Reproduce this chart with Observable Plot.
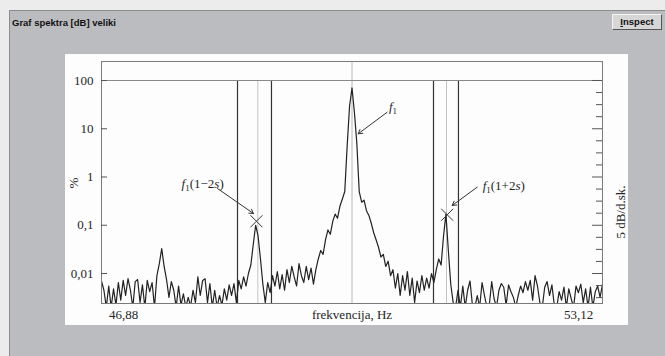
<!DOCTYPE html>
<html>
<head>
<meta charset="utf-8">
<script src="https://cdn.jsdelivr.net/npm/d3@7"></script>
<script src="https://cdn.jsdelivr.net/npm/@observablehq/plot@0.6"></script>
<style>
  html, body { margin: 0; padding: 0; }
  body { width: 665px; height: 356px; background: #ececec; position: relative; overflow: hidden; }
  #panel { position: absolute; left: 9px; top: 10px; width: 656px; height: 346px; background: #bbbcbf;
           border-top: 1px solid #8c8c8c; border-left: 1px solid #8c8c8c; }
  #title { position: absolute; left: 12px; top: 17px; font: bold 9.5px "Liberation Sans", Arial, sans-serif; color: #111; letter-spacing: 0px; }
  #inspect { position: absolute; left: 612px; top: 14px; width: 50px; height: 16px; background: #d6d6d6;
             border-top: 1px solid #f4f4f4; border-left: 1px solid #f4f4f4; border-right: 1px solid #555; border-bottom: 1px solid #555;
             font: bold 9.5px "Liberation Sans", Arial, sans-serif; color: #111; text-align: center; line-height: 14px; box-sizing: border-box; }
  #chart { position: absolute; left: 65px; top: 54px; width: 563px; height: 271px; background: #fdfdfd; }
</style>
</head>
<body>
<div id="panel"></div>
<div id="title">Graf spektra [dB] veliki</div>
<div id="inspect"><u>I</u>nspect</div>
<div id="chart"></div>
<script>
// ---- data ----
const fStart = 46.88;
const fStep = 0.03;
// spectrum amplitude, % (one value per bin)
const spectrum = [
  0.007, 0.0045, 0.002, 0.0055, 0.002, 0.0048, 0.0022, 0.0065, 0.0028, 0.0072,
  0.0035, 0.0078, 0.0045, 0.002, 0.0068, 0.0075, 0.0025, 0.0058, 0.002, 0.0072,
  0.0042, 0.0065, 0.002, 0.009, 0.016, 0.033, 0.014, 0.0075, 0.0032, 0.0068,
  0.0045, 0.002, 0.0055, 0.0022, 0.0038, 0.002, 0.0032, 0.0021, 0.0045, 0.0025,
  0.0085, 0.0035, 0.0072, 0.0078, 0.0025, 0.0062, 0.002, 0.0045, 0.002, 0.0035,
  0.0022, 0.0048, 0.0028, 0.0058, 0.0035, 0.0062, 0.0025, 0.0072, 0.0048, 0.0085,
  0.0055, 0.01, 0.015, 0.04, 0.1, 0.06, 0.02, 0.006, 0.0025, 0.0065,
  0.004, 0.009, 0.0055, 0.011, 0.0048, 0.0095, 0.0045, 0.012, 0.0065, 0.014,
  0.0085, 0.0055, 0.016, 0.009, 0.0065, 0.014, 0.0075, 0.013, 0.006, 0.012,
  0.02, 0.03, 0.025, 0.05, 0.08, 0.065, 0.12, 0.17, 0.14, 0.25,
  0.35, 0.5, 4.5, 30, 70, 22, 5, 0.5, 0.3, 0.33,
  0.2, 0.16, 0.11, 0.07, 0.05, 0.035, 0.022, 0.025, 0.014, 0.018,
  0.009, 0.012, 0.005, 0.01, 0.0035, 0.009, 0.0045, 0.011, 0.0035, 0.008,
  0.0025, 0.007, 0.004, 0.009, 0.0045, 0.008, 0.005, 0.01, 0.0065, 0.012,
  0.02, 0.015, 0.06, 0.17, 0.03, 0.006, 0.0025, 0.002, 0.0045, 0.002,
  0.0055, 0.002, 0.0045, 0.007, 0.0022, 0.002, 0.0035, 0.002, 0.0065, 0.0035,
  0.002, 0.0022, 0.0068, 0.003, 0.002, 0.0045, 0.0062, 0.0052, 0.0022, 0.0058,
  0.0042, 0.0032, 0.002, 0.0035, 0.0055, 0.004, 0.0068, 0.0045, 0.0072, 0.0028,
  0.009, 0.0055, 0.0025, 0.002, 0.0052, 0.0068, 0.0035, 0.0058, 0.0022, 0.002,
  0.0042, 0.0028, 0.0052, 0.002, 0.0048, 0.003, 0.002, 0.0055, 0.004, 0.006,
  0.0025, 0.0048, 0.002, 0.0052, 0.002, 0.0042, 0.0055, 0.0032, 0.006
];
const xDomain = [46.88, 53.12];
const yDomain = [0.00239, 247.6];
const yTicks = [100, 10, 1, 0.1, 0.01];
const yTickLabels = ["100", "10", "1", "0,1", "0,01"];
const xTickLabels = ["46,88", "53,12"];
const xLabel = "frekvencija, Hz";
const yLabel = "%";
const rightLabel = "5 dB/d.sk.";
const dbPerTick = 5;
// marker lines (Hz)
const darkLines = [48.574, 48.997, 51.015, 51.326];
const lightLines = [48.827, 51.177];
const centerLine = [50.0];
// annotations
const markerF = [48.81, 51.186];
const markerV = [0.121, 0.165];
const annText = ["f1", "f1(1-2s)", "f1(1+2s)"];
const annF = [50.51, 48.14, 51.89];
const annV = [28.9, 0.733, 0.667];
const arrF1 = [50.438, 48.325, 51.559];
const arrV1 = [22, 0.578, 0.615];
const arrF2 = [50.077, 48.773, 51.248];
const arrV2 = [7.86, 0.175, 0.257];

// ---- build ----
const W = 563, H = 271;
const mL = 36, mR = 26, mT = 7, mB = 22;
const plotW = W - mL - mR;

const spec = spectrum.map((v, i) => ({f: fStart + i * fStep, v}));
const rightTicks = d3.range(0, 19).map(k => 100 * Math.pow(10, -k * dbPerTick / 20));
const rightMajor = rightTicks.filter((d, k) => k % 4 === 0);
const rightMinor = rightTicks.filter((d, k) => k % 4 !== 0);
const ann = annText.map((t, i) => ({t, f: annF[i], v: annV[i]}));
const arrows = arrF1.map((d, i) => ({x1: d, y1: arrV1[i], x2: arrF2[i], y2: arrV2[i]}));
const markers = markerF.map((f, i) => ({f, v: markerV[i]}));

const serif = "'Liberation Serif', 'Times New Roman', serif";
const ink = "#262626";

const plot = Plot.plot({
  width: W, height: H,
  marginLeft: mL, marginRight: mR, marginTop: mT, marginBottom: mB,
  style: {background: "transparent", fontFamily: serif, fontSize: "13px", color: ink},
  x: {domain: xDomain, axis: null},
  y: {type: "log", domain: yDomain, axis: null},
  marks: [
    Plot.ruleX(centerLine, {x: d => d, y1: yDomain[0], y2: yDomain[1], stroke: "#b8b8b8", strokeWidth: 1}),
    Plot.ruleX(lightLines, {x: d => d, y1: yDomain[0], y2: 100, stroke: "#c4c4c4", strokeWidth: 1}),
    Plot.ruleX(darkLines, {x: d => d, y1: yDomain[0], y2: 100, stroke: "#333", strokeWidth: 1.2}),
    Plot.ruleY([100], {stroke: "#888", strokeWidth: 1}),
    Plot.line(spec, {x: "f", y: "v", stroke: "#222", strokeWidth: 1.2, clip: true}),
    Plot.frame({stroke: "#7a7a7a", strokeWidth: 1}),
    // left axis (inward ticks)
    Plot.tickY(yTicks, {y: d => d, stroke: "#555", insetRight: plotW - 6}),
    Plot.text(yTicks, {y: d => d, text: (d, i) => yTickLabels[i], frameAnchor: "left", dx: -8, textAnchor: "end", fill: ink, fontSize: 13}),
    // right axis ticks (5 dB per division)
    Plot.tickY(rightMinor, {y: d => d, stroke: "#555", insetLeft: plotW - 6}),
    Plot.tickY(rightMajor, {y: d => d, stroke: "#555", insetLeft: plotW - 10}),
    // x labels
    Plot.text([xTickLabels[0]], {frameAnchor: "bottom-left", dx: 22, dy: 11, text: d => d, textAnchor: "middle", lineAnchor: "middle", fill: ink, fontSize: 13}),
    Plot.text([xTickLabels[1]], {frameAnchor: "bottom-right", dx: -24, dy: 11, text: d => d, textAnchor: "middle", lineAnchor: "middle", fill: ink, fontSize: 13}),
    Plot.text([xLabel], {frameAnchor: "bottom", dy: 11, text: d => d, lineAnchor: "middle", fill: ink, fontSize: 13}),
    Plot.text([yLabel], {frameAnchor: "left", dx: -28, dy: 6, text: d => d, rotate: -90, fill: ink, fontSize: 13}),
    Plot.text([rightLabel], {frameAnchor: "right", dx: 18, dy: 3, text: d => d, rotate: -90, fill: ink, fontSize: 13}),
    // annotations
    Plot.arrow(arrows, {x1: "x1", y1: "y1", x2: "x2", y2: "y2", stroke: "#333", strokeWidth: 1, headLength: 7, bend: false}),
    Plot.dot(markers, {x: "f", y: "v", symbol: "times", r: 5.5, stroke: "#333", strokeWidth: 1}),
    Plot.text(ann, {x: "f", y: "v", text: "t", fill: ink, fontSize: 13, lineAnchor: "middle"})
  ]
});

// rich formatting of annotation labels (italic f, subscript 1, italic s)
d3.select(plot).selectAll("text").each(function () {
  const t = this.textContent;
  if (!annText.includes(t)) return;
  const sel = d3.select(this);
  sel.text(null);
  sel.append("tspan").attr("font-style", "italic").text("f");
  sel.append("tspan").attr("font-size", 9).attr("dy", 3).text("1");
  if (t.length > 2) {
    sel.append("tspan").attr("dy", -3).text("(1" + (t.includes("-") ? "\u2212" : "+") + "2");
    sel.append("tspan").attr("font-style", "italic").text("s");
    sel.append("tspan").text(")");
  }
});

document.getElementById("chart").appendChild(plot);
</script>
</body>
</html>
